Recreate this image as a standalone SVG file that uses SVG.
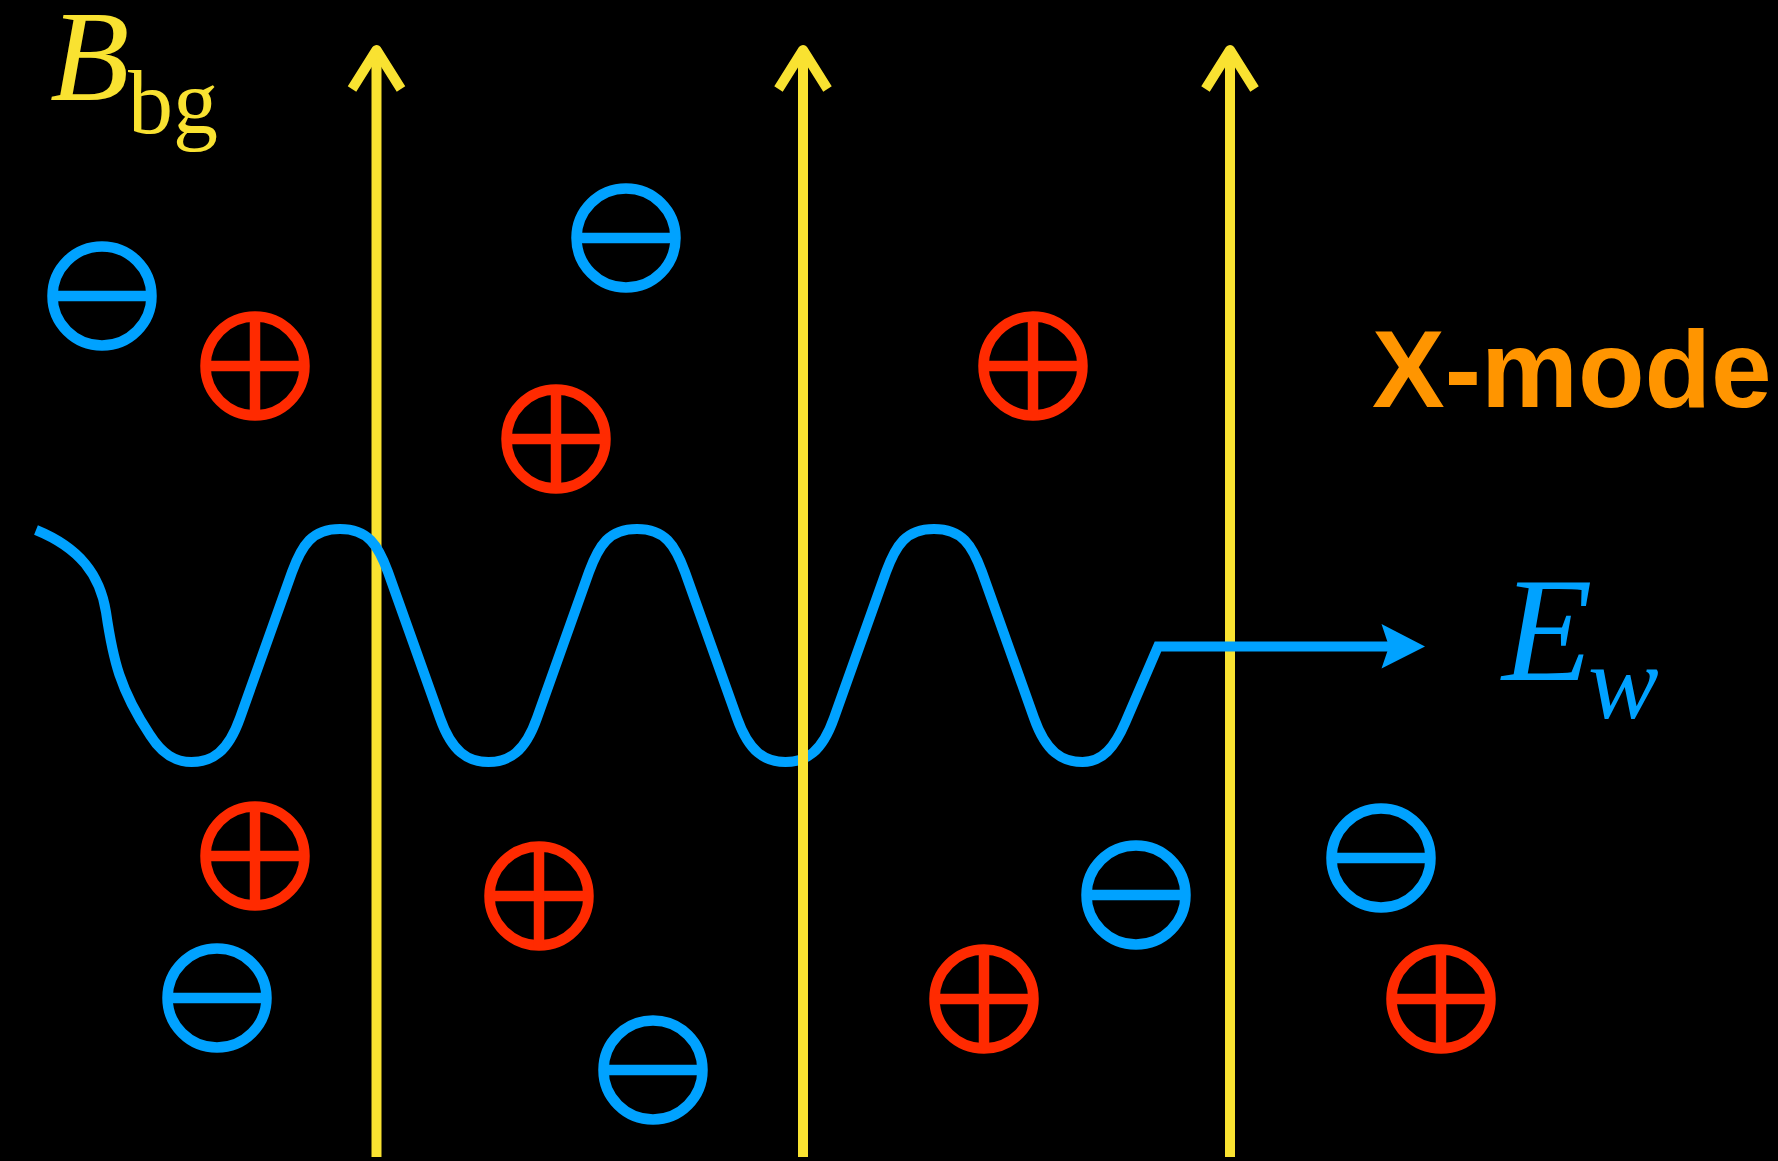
<svg xmlns="http://www.w3.org/2000/svg" width="1778" height="1161" viewBox="0 0 1778 1161">
<style>
.minus{stroke:#00a2ff;stroke-width:10.5;fill:none}
.plus{stroke:#ff2a00;stroke-width:10.5;fill:none}
.field{stroke:#f9e231;stroke-width:10;fill:none;stroke-linejoin:round}
.wave{stroke:#00a2ff;stroke-width:10;fill:none;stroke-linejoin:miter}
.ser{font-family:"Liberation Serif","Times New Roman",serif;font-style:italic}
</style>
<defs>
<g id="m"><circle r="49.5"/><line x1="-49.5" y1="0" x2="49.5" y2="0"/></g>
<g id="p"><circle r="49.5"/><line x1="-49.5" y1="0" x2="49.5" y2="0"/><line x1="0" y1="-49.5" x2="0" y2="49.5"/></g>
</defs>
<rect width="1778" height="1161" fill="#000"/>
<g id="charges-minus" class="minus">
<use id="m1" href="#m" x="102" y="296"/>
<use id="m2" href="#m" x="626" y="238"/>
<use id="m3" href="#m" x="1381" y="858"/>
<use id="m4" href="#m" x="1136" y="895"/>
<use id="m5" href="#m" x="217" y="998"/>
<use id="m6" href="#m" x="653" y="1070"/>
</g>
<g id="charges-plus" class="plus">
<use id="p1" href="#p" x="255" y="366"/>
<use id="p2" href="#p" x="556" y="439"/>
<use id="p3" href="#p" x="1033" y="366"/>
<use id="p4" href="#p" x="255" y="856"/>
<use id="p5" href="#p" x="539" y="896"/>
<use id="p6" href="#p" x="984" y="999"/>
<use id="p7" href="#p" x="1441" y="999"/>
</g>
<g id="connectors">
<g id="field-lines" class="field">
<line x1="376.5" y1="54" x2="376.5" y2="1157"/>
<polyline points="352,89 376.5,50 401,89"/>
<line x1="803" y1="54" x2="803" y2="1157"/>
<polyline points="778.5,89 803,50 827.5,89"/>
<line x1="1230" y1="54" x2="1230" y2="1157"/>
<polyline points="1205.5,89 1230,50 1254.5,89"/>
</g>
<path id="wave" class="wave" d="M 36,530 C 80,548 100,575 106,612 C 113,660 120,690 150,735 C 162,754 175,762 191.5,762 c 20.5,0 36.5,-10 48.5,-44 l 52,-146 c 10,-27 20,-43 48,-43 c 28,0 38,16 48,43 l 52,146 c 12,34 28,44 48.5,44 c 20.5,0 36.5,-10 48.5,-44 l 52,-146 c 10,-27 20,-43 48,-43 c 28,0 38,16 48,43 l 52,146 c 12,34 28,44 48.5,44 c 20.5,0 36.5,-10 48.5,-44 l 52,-146 c 10,-27 20,-43 48,-43 c 28,0 38,16 48,43 l 52,146 c 12,34 28,44 48.5,44 c 20,0 32.3,-15 43,-40 L 1158,646.5 L 1395,646.5"/>
<polygon id="wave-head" points="1425,646.5 1381.5,624 1389,646.5 1381.5,668.5" fill="#00a2ff"/>
<line class="field" x1="803" y1="738" x2="803" y2="790"/>
</g>
<g id="label-Bbg" fill="#f9e231">
<text class="ser" x="50" y="100" font-size="130">B</text>
<text x="128" y="133" font-size="90" font-family="'Liberation Serif','Times New Roman',serif">bg</text>
</g>
<g id="label-Ew" fill="#00a2ff">
<text class="ser" x="1502" y="680" font-size="148">E</text>
<text class="ser" x="1588" y="718" font-size="106">w</text>
</g>
<g id="label-xmode">
<text x="1372" y="407" font-size="109" font-weight="bold" font-family="'Liberation Sans',Arial,sans-serif" fill="#ff9500">X-mode</text>
</g>
</svg>
